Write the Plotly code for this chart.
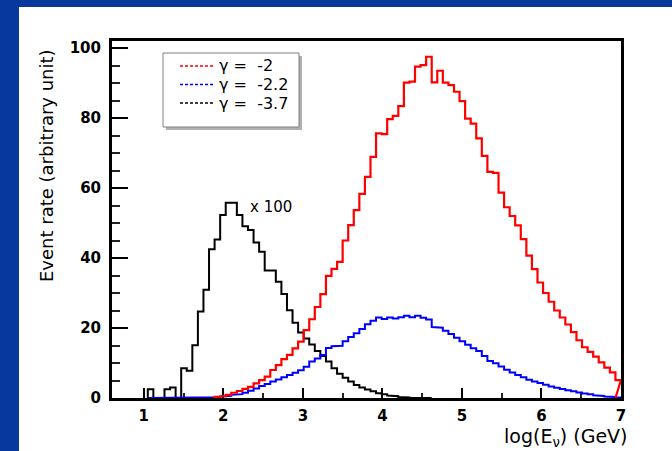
import plotly.graph_objects as go

BIN_WIDTH = 0.07  # log10(E) bin width

# red: gamma = -2, first bin index 27 (lower edge 1.89)
red_start = 27
red_vals = [0.3, 0.5, 0.9, 1.5, 2.0, 2.6, 3.2, 4.2, 5.1, 6.1,
            8.0, 9.4, 11.1, 12.3, 14.2, 16.1, 19.4, 22.5, 26.0, 29.7,
            34.9, 36.9, 38.9, 45.0, 49.4, 53.7, 58.3, 63.2, 68.9, 75.6,
            75.4, 79.7, 80.6, 83.4, 90.1, 90.4, 94.7, 95.1, 97.5, 90.2,
            93.5, 90.1, 89.4, 87.5, 84.8, 79.8, 78.4, 74.2, 69.2, 64.6,
            64.3, 58.7, 54.5, 52.0, 49.3, 45.4, 40.7, 36.8, 33.0, 30.0,
            27.5, 25.0, 23.0, 21.0, 18.8, 16.5, 14.5, 13.2, 11.8, 10.2,
            8.7, 7.3, 5.1]

# blue: gamma = -2.2, first bin index 15 (lower edge 1.05)
blue_start = 15
blue_vals = [0, 0, 0, 0, 0, 0, 0, 0, 0, 0, 0,
             0.1, 0.2, 0.4, 0.6, 0.9, 1.1, 1.5, 2.1, 2.7, 3.4,
             4.0, 4.7, 5.3, 5.9, 6.6, 7.2, 7.9, 8.9, 10.4, 11.3,
             12.3, 14.3, 14.8, 14.9, 16.2, 17.4, 18.5, 19.7, 21.1, 22.1,
             23.0, 22.6, 23.0, 22.7, 23.1, 23.5, 23.1, 23.5, 22.9, 22.4,
             20.3, 20.1, 19.2, 18.3, 17.2, 16.2, 15.2, 14.2, 13.4, 12.0,
             10.6, 9.9, 9.0, 8.1, 7.3, 6.6, 5.9, 5.2, 4.7, 4.3,
             3.8, 3.3, 2.9, 2.6, 2.2, 1.9, 1.6, 1.3, 1.05, 0.8,
             0.6, 0.45, 0.3, 0.15]

# black: gamma = -3.7 (scaled x 100), first bin index 15
black_start = 15
black_vals = [2.5, 0, 0, 2.5, 3.0, 0, 8.5, 7.8, 15.1, 24.7,
              30.9, 42.5, 45.3, 52.3, 55.8, 55.8, 52.3, 49.1, 48.0, 44.4,
              41.8, 36.4, 36.4, 33.2, 29.7, 25.1, 21.5, 18.7, 17.0, 15.3,
              13.4, 12.0, 10.4, 8.5, 6.9, 5.8, 4.7, 3.7, 3.0, 2.4,
              1.9, 1.35, 1.05, 0.7, 0.5, 0.3, 0.15, 0.05, 0, 0, 0]

legend_names = ["\u03b3 =  -2", "\u03b3 =  -2.2", "\u03b3 =  -3.7"]
colors = ["#ff0000", "#0000ff", "#000000"]

x_ticks = [1, 2, 3, 4, 5, 6, 7]
y_ticks = [0, 20, 40, 60, 80, 100]


def steps(start, vals, close_back=False):
    edges = [(start + i) * BIN_WIDTH for i in range(len(vals) + 1)]
    xs, ys = [edges[0]], [0]
    for i, v in enumerate(vals):
        xs += [edges[i], edges[i + 1]]
        ys += [v, v]
    if close_back:
        xs.append(edges[-2])
    else:
        xs.append(edges[-1])
    ys.append(0)
    return xs, ys


fig = go.Figure()

for (start, vals, col, cb, w) in [
    (black_start, black_vals, colors[2], False, 2),
    (blue_start, blue_vals, colors[1], False, 2),
    (red_start, red_vals, colors[0], True, 2.2),
]:
    xs, ys = steps(start, vals, cb)
    fig.add_trace(go.Scatter(x=xs, y=ys, mode="lines",
                             line=dict(color=col, width=w),
                             showlegend=False, hoverinfo="skip"))

L, R, T, B = 112, 621, 41, 398
W, H = 672, 451


def px(x):
    return (x - L) / (R - L)


def py(y):
    return (B - y) / (B - T)


shapes = [
    # white page
    dict(type="rect", xref="paper", yref="paper", x0=px(19), x1=px(W + 5),
         y0=py(7), y1=py(H + 5), fillcolor="white", line=dict(width=0),
         layer="below"),
    # legend shadow
    dict(type="rect", xref="paper", yref="paper", x0=px(166), x1=px(302),
         y0=py(56), y1=py(130), fillcolor="#b0b0b0", line=dict(width=0),
         layer="below"),
    # legend box
    dict(type="rect", xref="paper", yref="paper", x0=px(163), x1=px(299),
         y0=py(53), y1=py(127), fillcolor="white",
         line=dict(color="#808080", width=1), layer="below"),
]

annotations = [
    dict(text="x 100", x=2.31, y=54.6, xref="x", yref="y", xanchor="left",
         yanchor="middle", showarrow=False,
         font=dict(family="DejaVu Sans", size=15, color="black")),
    dict(text="Event rate (arbitrary unit)", x=px(46), y=py(166),
         xref="paper", yref="paper", textangle=-90, showarrow=False,
         xanchor="center", yanchor="middle",
         font=dict(family="DejaVu Sans", size=18, color="black")),
    dict(text="log(E<sub>\u03bd</sub>) (GeV)", x=px(630), y=py(437),
         xref="paper", yref="paper", showarrow=False,
         xanchor="right", yanchor="middle",
         font=dict(family="DejaVu Sans", size=19, color="black")),
]

# legend rows (drawn by hand: dashed sample + label)
row_y = [66, 84.5, 103]
for name, col, ry in zip(legend_names, colors, row_y):
    shapes.append(dict(type="line", xref="paper", yref="paper",
                       x0=px(180), x1=px(215), y0=py(ry), y1=py(ry),
                       line=dict(color=col, width=1.3, dash="3px,2px"),
                       layer="above"))
    annotations.append(dict(text=name, x=px(217), y=py(ry), xref="paper",
                            yref="paper", xanchor="left", yanchor="middle",
                            showarrow=False,
                            font=dict(family="DejaVu Sans", size=16,
                                      color="black")))

tickfont = dict(family="DejaVu Sans", size=15, color="black", weight="bold")

fig.update_layout(
    width=W, height=H,
    margin=dict(l=L, r=W - R, t=T, b=H - B, pad=0),
    paper_bgcolor="#07399d",
    plot_bgcolor="rgba(0,0,0,0)",
    shapes=shapes,
    annotations=annotations,
    showlegend=False,
    xaxis=dict(range=[0.6, 7.0], tickvals=x_ticks, ticks="inside",
               ticklen=10, tickwidth=2, tickcolor="black",
               minor=dict(dtick=0.5, tick0=0, ticks="inside", ticklen=5,
                          tickwidth=1.5, tickcolor="#222"),
               showline=True, linewidth=3, linecolor="black", mirror=True,
               showgrid=False, zeroline=False, tickfont=tickfont,
               ticklabelstandoff=2, layer="below traces"),
    yaxis=dict(range=[0, 102], tickvals=y_ticks, ticks="inside",
               ticklen=16, tickwidth=2, tickcolor="black",
               minor=dict(dtick=5, tick0=0, ticks="inside", ticklen=8,
                          tickwidth=1.5, tickcolor="#222"),
               showline=True, linewidth=3, linecolor="black", mirror=True,
               showgrid=False, zeroline=False, tickfont=tickfont,
               ticklabelstandoff=5, layer="below traces"),
)

fig.write_html("out.html", config={"displayModeBar": False},
               post_script="document.body.style.margin='0';document.body.style.overflow='hidden';")
